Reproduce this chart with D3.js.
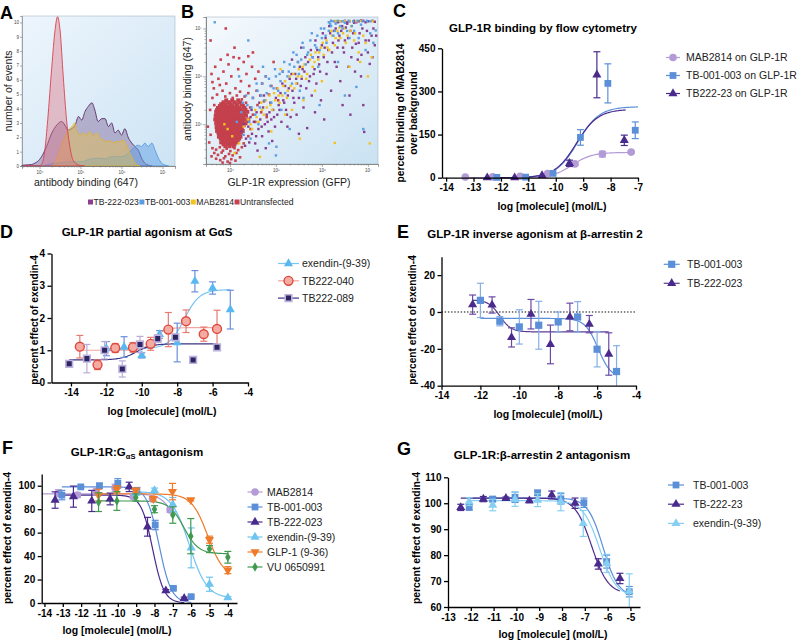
<!DOCTYPE html>
<html>
<head>
<meta charset="utf-8">
<script src="https://cdn.jsdelivr.net/npm/d3@7"></script>
<style>
  body { margin: 0; background: #fff; }
  svg { display: block; }
</style>
</head>
<body>
<div id="chart"></div>
<script>
// ---------- data ----------
// A: histograms, [log10 intensity, number of events]
const histUntransfected = [[3.6,0],[4.0,0],[4.08,0.3],[4.13,1.1],[4.2,3.2],[4.3,6.9],[4.38,9.5],[4.44,10.4],[4.5,9.5],[4.58,6.2],[4.66,3.2],[4.74,1.35],[4.82,0.4],[4.95,0.07],[5.1,0]];
const histTB222023 = [[3.57,0.05],[3.65,0.07],[3.8,0.1],[3.89,0.2],[4.0,0.45],[4.05,0.65],[4.17,1.35],[4.3,2.3],[4.42,2.85],[4.54,3.1],[4.62,2.85],[4.7,2.5],[4.78,2.6],[4.87,2.85],[4.95,3.45],[5.03,3.2],[5.11,3.8],[5.19,4.15],[5.28,4.4],[5.35,3.9],[5.43,3.1],[5.52,3.3],[5.6,3.3],[5.68,2.75],[5.76,3.0],[5.84,2.3],[5.92,2.5],[6.0,2.15],[6.08,2.6],[6.17,1.95],[6.25,1.6],[6.33,1.35],[6.41,1.1],[6.49,0.55],[6.57,0.2],[6.65,0.07],[6.75,0]];
const histMAB2814 = [[4.3,0],[4.38,0.2],[4.5,1.1],[4.62,2.05],[4.74,2.6],[4.82,2.85],[4.86,3.0],[4.9,2.5],[4.99,2.15],[5.07,2.3],[5.15,2.15],[5.23,2.4],[5.31,2.05],[5.39,2.3],[5.48,1.95],[5.56,1.8],[5.64,1.7],[5.72,1.75],[5.8,1.6],[5.88,1.7],[5.96,1.7],[6.04,1.8],[6.12,1.45],[6.2,0.9],[6.29,0.4],[6.37,0.07],[6.45,0]];
const histTB001003 = [[4.05,0],[4.2,0.1],[4.4,0.2],[4.6,0.25],[4.8,0.3],[5.03,0.3],[5.2,0.45],[5.43,0.55],[5.6,0.5],[5.76,0.65],[6.0,0.65],[6.17,0.9],[6.29,1.25],[6.41,1.45],[6.49,1.35],[6.57,1.6],[6.65,1.35],[6.74,1.6],[6.82,1.1],[6.9,0.55],[6.98,0.2],[7.06,0.07],[7.15,0]];

// B: scatter, [log10 GFP, log10 antibody binding]
const untransCoreRows = [
  [5.50,[3.92,4.05,4.18]],
  [5.46,[3.86,3.98,4.10,4.22]],
  [5.42,[3.81,3.90,4.02,4.14,4.26]],
  [5.38,[3.78,3.87,3.96,4.06,4.17,4.29]],
  [5.34,[3.74,3.83,3.93,4.01,4.11,4.21,4.32]],
  [5.30,[3.72,3.80,3.89,3.97,4.05,4.15,4.24,4.34]],
  [5.26,[3.70,3.77,3.85,3.94,4.02,4.09,4.18,4.28,4.38]],
  [5.22,[3.73,3.81,3.90,3.98,4.06,4.13,4.22,4.31]],
  [5.18,[3.69,3.76,3.84,3.92,4.00,4.08,4.16,4.25,4.35]],
  [5.14,[3.71,3.79,3.87,3.95,4.03,4.11,4.19,4.28]],
  [5.10,[3.68,3.75,3.83,3.91,3.99,4.07,4.14,4.22,4.31,4.40]],
  [5.06,[3.72,3.80,3.88,3.96,4.04,4.12,4.20,4.27]],
  [5.02,[3.70,3.77,3.85,3.93,4.01,4.09,4.17,4.25,4.34]],
  [4.98,[3.73,3.81,3.89,3.97,4.05,4.13,4.21,4.30]],
  [4.94,[3.71,3.79,3.86,3.94,4.02,4.10,4.18,4.26]],
  [4.90,[3.74,3.82,3.90,3.98,4.06,4.14,4.23]],
  [4.86,[3.72,3.80,3.87,3.95,4.03,4.11,4.19,4.28]],
  [4.82,[3.75,3.84,3.92,4.00,4.08,4.16,4.24]],
  [4.78,[3.78,3.86,3.94,4.02,4.10,4.19]],
  [4.74,[3.76,3.83,3.91,3.99,4.07,4.15,4.23]],
  [4.70,[3.80,3.88,3.96,4.04,4.12,4.20]],
  [4.66,[3.84,3.92,4.00,4.08,4.17]],
  [4.62,[3.81,3.89,3.97,4.05,4.13]],
  [4.58,[3.86,3.94,4.02,4.10]],
  [4.54,[3.90,3.99,4.08]]
];
const untransSparse = [[3.62,4.50],[3.70,4.47],[3.78,4.52],[3.85,4.45],[3.93,4.49],[4.01,4.44],[4.10,4.50],[4.18,4.46],[4.26,4.52],[3.66,4.40],[3.74,4.36],[3.82,4.41],[3.90,4.33],[3.98,4.38],[4.06,4.35],[4.14,4.40],[4.22,4.31],[3.70,4.28],[3.79,4.25],[3.87,4.29],[3.95,4.22],[4.03,4.27],[4.12,4.24],[3.60,4.33],[3.84,4.20],[4.00,4.19],[3.92,4.56],[4.30,4.60],[3.55,4.62],[3.58,4.78],[3.52,4.95],[4.40,4.75],[4.45,4.90],[4.38,5.05],[4.50,5.20],[4.44,5.35],[3.62,5.55],[3.66,5.40],
  [3.60,6.05],[3.68,6.20],[3.75,5.95],[3.80,6.35],[3.86,6.10],[3.92,5.85],[3.97,6.25],[4.03,6.00],[4.08,6.40],[4.12,5.75],[4.18,6.15],[4.24,5.90],[4.30,6.30],[4.36,6.05],[4.42,5.80],[4.48,6.20],[4.55,5.95],[4.62,6.10],[4.70,5.85],[4.78,6.00],[3.65,5.75],[3.72,5.62],[3.84,5.70],[3.90,5.58],[4.00,5.65],[4.06,5.55],[4.15,5.60],[4.22,5.68],[4.32,5.58],[4.40,5.65],[4.50,5.55],[4.58,5.70],[4.66,5.60],[4.74,5.48],[4.85,5.62],[3.78,5.82],[3.95,6.45],[4.20,6.38],[4.40,6.42],[4.26,5.52],[4.35,5.45],[3.57,5.30],[3.62,5.88],[4.90,5.80],[4.95,6.30],[5.05,5.50],[4.60,5.40],[4.68,5.25],[4.55,5.05],[4.80,5.15],[4.10,6.60],[3.91,7.00],[3.58,6.75],[4.50,6.50]];
const scatterTB222023 = [[4.25,4.85],[4.30,5.00],[4.35,4.70],[4.40,4.95],[4.45,5.15],[4.48,4.80],[4.52,5.05],[4.55,4.60],[4.58,5.25],[4.62,4.90],[4.66,5.10],[4.70,4.75],[4.72,5.35],[4.76,5.00],[4.80,5.20],[4.84,4.85],[4.88,5.45],[4.90,5.10],[4.94,5.30],[4.98,4.95],[5.00,5.55],[5.03,5.20],[4.92,4.65],[4.60,4.45],[4.78,4.50],
  [5.06,5.40],[5.10,5.65],[5.12,5.05],[5.16,5.50],[5.20,5.80],[5.22,5.30],[5.26,5.60],[5.30,5.95],[5.32,5.15],[5.36,5.70],[5.40,5.45],[5.42,6.05],[5.46,5.85],[5.50,5.55],[5.52,6.20],[5.56,5.95],[5.60,5.35],[5.62,6.10],[5.66,5.75],[5.68,4.92],[5.70,6.30],[5.74,6.00],[5.78,5.60],[5.80,6.40],[5.84,6.15],[5.88,5.85],[5.90,6.55],[5.94,6.25],[5.98,5.50],[6.00,6.65],[5.15,6.10],[5.35,6.35],[5.55,6.60],[5.25,4.95],[5.45,5.20],[5.85,5.25],
  [6.04,6.40],[6.08,6.80],[6.10,6.05],[6.14,6.55],[6.18,6.90],[6.20,5.70],[6.24,6.70],[6.28,6.30],[6.30,7.00],[6.34,6.60],[6.38,6.85],[6.40,5.90],[6.44,7.05],[6.48,6.50],[6.50,6.75],[6.55,7.10],[6.58,6.20],[6.62,6.95],[6.66,6.60],[6.70,7.12],[6.74,6.68],[6.78,6.35],[6.82,6.90],[6.85,6.00],[6.88,7.00],[6.92,4.84],[6.95,6.75],[7.00,6.50],[7.04,6.26],[7.08,6.85],[7.12,7.00],[7.15,6.65],[6.60,5.60],[6.90,5.40],[6.45,5.40],
  [6.30,7.15],[6.40,7.15],[6.50,7.16],[6.60,7.15],[6.70,7.16],[6.80,7.15],[6.90,7.16],[7.00,7.15],[7.10,7.16],[6.35,7.13],[6.55,7.13],[6.75,7.13],[6.95,7.13],[7.15,7.14],[6.85,7.17],
  [4.33,4.55],[4.42,4.62],[4.47,5.30],[4.57,4.75],[4.64,5.45],[4.69,4.95],[4.74,5.60],[4.82,5.05],[4.86,5.25],[4.96,5.15],[5.02,5.75],[5.08,5.30],[5.14,5.85],[5.18,5.45],[5.24,5.20],[5.28,5.75],[5.34,6.05],[5.38,5.55],[5.44,5.95],[5.48,6.30],[5.54,5.80],[5.58,6.15],[5.64,6.40],[5.72,5.90],[5.76,6.55],[5.82,6.05],[5.86,6.75],[5.92,6.40],[5.96,6.10],[6.02,6.90],[6.06,6.60],[6.12,6.30],[6.16,7.05],[6.22,6.50],[6.26,6.95],[6.32,6.20],[6.36,6.75],[6.42,6.95],[6.46,6.60],[6.52,7.02],[6.57,6.80],[6.64,6.40],[6.68,6.90],[6.72,6.10],[6.80,6.70],[6.86,6.45],[6.98,6.95],[7.02,6.75],[7.10,6.40],[7.18,6.85],[6.62,5.20],[6.05,5.10],[5.50,4.80]];
const scatterTB001003 = [[4.15,5.05],[4.25,5.25],[4.30,4.78],[4.38,5.40],[4.42,5.05],[4.50,5.55],[4.55,5.20],[4.60,5.70],[4.65,5.35],[4.70,5.85],[4.75,5.50],[4.80,5.65],[4.85,5.95],[4.90,5.45],[4.95,5.75],[5.00,6.00],[5.01,4.53],[5.00,4.35],[5.05,5.70],[5.10,5.90],[5.15,6.10],[5.20,5.65],[5.25,6.00],[5.30,6.25],[5.35,5.85],[5.40,6.20],[5.45,6.45],[5.50,6.05],[5.55,6.35],[5.60,6.60],[5.65,6.25],[5.70,6.50],[5.75,6.75],[5.80,6.40],[5.85,6.65],[5.90,6.85],[5.95,6.55],[6.00,6.80],[6.05,7.00],[6.10,6.70],[6.15,6.95],[6.20,7.05],[6.25,6.85],[6.30,7.10],[6.35,6.90],[6.45,7.00],[6.55,6.95],[6.65,7.05],[6.75,5.78],[6.80,6.80],[6.95,6.55],[7.05,6.90],[7.17,6.96],[3.67,7.13],[4.35,5.60],[4.45,4.70],[4.85,4.60],[5.30,4.90],[5.60,5.55],[6.50,5.60],[6.90,4.90],[6.35,6.30],[5.95,5.40],[4.72,6.20],[4.20,6.00],[4.40,6.75],
  [6.20,7.16],[6.25,7.15],[6.35,7.16],[6.45,7.15],[6.58,7.16],[6.68,7.15],[6.78,7.16],[6.88,7.15],[6.98,7.16],[7.05,7.15],[6.15,7.13],
  [4.28,5.45],[4.47,5.35],[4.58,5.85],[4.68,5.60],[4.78,6.00],[4.88,5.80],[4.98,6.15],[5.08,6.05],[5.18,6.30],[5.28,6.10],[5.38,6.50],[5.48,6.30],[5.58,6.70],[5.68,6.45],[5.78,6.90],[5.88,6.60],[5.98,7.00],[6.08,6.85],[6.18,7.10],[6.28,6.95],[6.40,7.05],[6.60,6.80],[6.70,6.95],[7.12,6.70],[5.12,5.30],[5.52,5.70],[5.92,6.20],[4.62,5.00],[6.85,7.08],[6.50,7.12]];
const scatterMAB2814 = [[4.30,4.95],[4.40,5.10],[4.48,4.90],[4.55,5.30],[4.62,5.05],[4.68,5.45],[4.74,5.20],[4.80,5.35],[4.86,5.60],[4.92,5.30],[4.98,5.50],[5.04,5.75],[5.08,5.45],[5.14,5.60],[5.20,5.90],[5.26,5.70],[5.32,5.80],[5.38,6.05],[5.44,5.85],[5.50,6.15],[5.56,6.00],[5.62,6.25],[5.68,6.05],[5.74,6.35],[5.80,6.20],[5.86,6.50],[5.92,6.35],[5.98,6.60],[6.04,6.45],[6.10,6.75],[6.16,6.55],[6.22,6.85],[6.28,6.65],[6.34,6.95],[6.40,6.80],[6.48,7.00],[6.56,6.85],[6.64,7.05],[6.72,6.90],[6.80,6.50],[6.83,6.30],[6.95,6.70],[7.08,6.40],[5.52,4.70],[6.28,4.61],[7.04,4.60],[4.65,4.32],[4.10,4.40],[3.95,4.90],[4.05,4.75],[3.88,5.00],[4.20,4.60],[5.20,5.20],[5.60,5.50],[6.00,5.90],[4.90,4.85],[5.10,6.15],[6.60,6.20],[6.20,7.16],[6.40,7.15],[6.60,7.16],[6.75,7.15],[7.10,7.15],[7.00,6.00],
  [4.45,5.00],[4.58,5.15],[4.70,5.30],[4.78,5.50],[4.88,5.40],[4.96,5.65],[5.06,5.60],[5.16,5.80],[5.24,5.55],[5.30,6.00],[5.40,5.75],[5.48,6.00],[5.58,6.20],[5.66,5.95],[5.76,6.45],[5.84,6.30],[5.94,6.50],[6.02,6.70],[6.12,6.60],[6.20,6.95],[6.30,6.80],[6.38,7.02],[6.46,6.90],[6.52,6.70],[6.62,6.95],[6.70,6.75],[6.90,6.85],[6.30,7.16],[6.50,7.15],[6.85,7.16],[5.35,5.30],[5.85,5.70]];
const legendAB = ['TB-222-023', 'TB-001-003', 'MAB2814', 'Untransfected'];

// fits are [left plateau, right plateau, logEC50, hill]
// C: binding by flow cytometry
const cMabX = [-13.3,-12.3,-11.3,-10.3,-9.3,-8.3,-7.25];
const cMabY = [2,3,5,14,48,82,89];
const cMabErr = [0,0,0,0,5,10,4];
const cMabFit = [0,88,-9.4,1.2];
const cTb001X = [-12.15,-11.1,-10.1,-9.1,-8.1,-7.1];
const cTb001Y = [1,2,15,140,328,165];
const cTb001Err = [0,0,0,27,68,29];
const cTb001Fit = [0,247,-9.2,1.1];
const cTb222X = [-12.5,-11.5,-10.5,-9.5,-8.5,-7.5];
const cTb222Y = [0,0,8,50,358,130];
const cTb222Err = [0,0,0,11,80,18];
const cTb222Fit = [0,238,-9.25,1.1];

// D: partial agonism at GaS
const dExX = [-12,-11,-10,-9,-8,-7,-6,-5];
const dExY = [1.05,1.10,0.84,1.49,1.24,3.14,2.93,2.26];
const dExErr = [0.22,0.32,0.08,0.12,0.6,0.33,0.19,0.6];
const dExFit = [1.05,2.88,-7.6,1.0];
const d040X = [-13.5,-12.5,-11.5,-10.5,-9.5,-8.5,-7.5,-6.5,-5.75];
const d040Y = [1.11,0.55,1.07,1.09,1.20,1.64,1.90,1.50,1.66];
const d040Err = [0.35,0.15,0.14,0.15,0.2,0.53,0.35,0.22,0.58];
const d040Fit = [1.0,1.7,-9.3,1.5];
const d089X = [-14.1,-13.1,-12.1,-11.1,-10.1,-9.1,-8.1,-7.1,-5.75];
const d089Y = [0.58,0.74,1.00,0.42,1.18,1.36,1.40,0.70,1.09];
const d089Err = [0.1,0.44,0.27,0.25,0.25,0.12,0.1,0,0];
const d089Fit = [0.7,1.2,-10.3,1.0];

// E: inverse agonism at beta-arrestin 2
const eTb001X = [-12,-11,-10,-9,-8,-7,-6,-5];
const eTb001Y = [6.3,-5.0,-8.1,-7.2,-5.4,-2.7,-20.2,-32.3];
const eTb001Err = [9.3,2.5,9.3,13,5.4,8.3,9.6,14];
const eTb001Fit = [-3.5,-36,-5.95,1.3];
const eTb222X = [-12.4,-11.4,-10.4,-9.4,-8.4,-7.4,-6.4,-5.4];
const eTb222Y = [4.0,3.8,-13.8,-1.2,-17.6,-2.7,-6.6,-22.8];
const eTb222Err = [5.2,4.4,5.2,8,10.5,7.5,4.7,11.5];
const eTb222Fit = [6.5,-10.8,-11.0,1.5];

// F: GaS antagonism
const fMabX = [-13.24,-12.2,-11.18,-10.15,-9.15,-8.11,-7.15];
const fMabY = [93.6,92.1,95,98.3,90.7,88.7,79.3];
const fMabErr = [3,2,3,3,2,2,2];
const fMabFit = [93,60,-7.0,1.2];
const fTb001X = [-13.05,-12.02,-11.0,-10.0,-8.96,-7.96,-6.97,-6.0];
const fTb001Y = [92,99,100,102,95.5,66.5,12.5,5.4];
const fTb001Err = [4,1,2,4,3,4,1,1];
const fTb001Fit = [99,0,-7.75,1.3];
const fTb222X = [-13.42,-12.42,-11.42,-10.42,-9.38,-8.38,-7.38,-6.38];
const fTb222Y = [87.8,90.7,87,88.7,99,65,10.5,4];
const fTb222Err = [7,9,9,5,4,8,1,1];
const fTb222Fit = [92,0,-8.1,1.4];
const fExX = [-9.0,-8.0,-7.0,-6.0,-5.0,-4.0];
const fExY = [94,96,84,47,16,4.5];
const fExErr = [2,2,6,17,6,1];
const fExFit = [95,4,-6.1,0.9];
const fGlpX = [-11.05,-10.05,-9.02,-8.06,-7.02,-6.02,-5.0,-4.0];
const fGlpY = [92,97,96,89,95,88,54,28];
const fGlpErr = [5,3,2,2,7,1,3,3];
const fGlpFit = [93,22,-5.1,1.0];
const fVuX = [-11.05,-10.05,-9.02,-8.0,-7.0,-6.02,-5.0,-4.0];
const fVuY = [86,87,90,80,75,57,46,39];
const fVuErr = [8,8,3,3,7,15,3,5];
const fVuFit = [87,42,-6.4,1.1];

// G: beta-arrestin 2 antagonism
const gTb001X = [-12.07,-11.04,-10.06,-9.07,-8.05,-7.04,-6.04,-5.05];
const gTb001Y = [98.4,101.6,102.3,104,101.7,100.2,77.5,65.9];
const gTb001Err = [1,1,2,1,2,1.8,2.5,2];
const gTb001Fit = [102,64,-6.2,1.3];
const gTb222X = [-12.44,-11.45,-10.46,-9.43,-8.45,-7.43,-6.41,-5.46];
const gTb222Y = [98.4,101.6,101.9,101,103.2,100,76.6,71];
const gTb222Err = [1.2,1,0.5,0.8,1.5,2,2,2];
const gTb222Fit = [102,65,-6.7,1.2];
const gExX = [-12.07,-11.04,-10.06,-9.07,-8.05,-7.07,-6.04,-5.05];
const gExY = [100.6,99.3,101.5,101.2,100.6,92.2,76.8,66];
const gExErr = [1.5,2.2,2.7,2.5,3.5,5,3.5,6.8];
const gExFit = [101,64,-6.35,1.2];

// ---------- drawing ----------
const FONT = "'Liberation Sans', Arial, Helvetica, sans-serif";
const svg = d3.select('#chart').append('svg')
  .attr('width', 800).attr('height', 642)
  .attr('font-family', FONT);

const defs = svg.append('defs');
[['bgA', '#edf5fc', '#cde4f4'], ['bgB', '#f6fafd', '#cae2f3']].forEach(([id, c0, c1]) => {
  const lg = defs.append('linearGradient').attr('id', id)
    .attr('x1', '0%').attr('y1', '0%').attr('x2', '100%').attr('y2', '100%');
  lg.append('stop').attr('offset', '0%').attr('stop-color', c0);
  lg.append('stop').attr('offset', '100%').attr('stop-color', c1);
});

// panel letters
[['A',0,19],['B',181,18],['C',393,17],['D',0,238],['E',397,238],['F',2,454],['G',397,455]].forEach(([t,x,y]) => {
  svg.append('text').attr('x', x).attr('y', y).attr('font-size', 18).attr('font-weight', 'bold').text(t);
});

const supDigits = {4:'⁴', 5:'⁵', 6:'⁶', 7:'⁷'};
const minorLog = d3.range(3, 8).flatMap(k => d3.range(2, 10).map(m => k + Math.log10(m)));

function thinAxis(g, axis, tx, ty) {
  const a = g.append('g').attr('transform', `translate(${tx},${ty})`).call(axis);
  a.select('.domain').attr('stroke', '#777').attr('stroke-width', 0.6);
  a.selectAll('.tick line').attr('stroke', '#777').attr('stroke-width', 0.6);
  a.selectAll('.tick text').attr('fill', '#444').attr('font-size', 4.5).attr('font-family', FONT);
  return a;
}

// ---- A: histograms ----
const ax = d3.scaleLinear().domain([3.573, 7.305]).range([22, 175]);
const ay = d3.scaleLinear().domain([0, 10.45]).range([166, 16]);
const gA = svg.append('g');
gA.append('rect').attr('x', 22).attr('y', 16).attr('width', 153).attr('height', 150)
  .attr('fill', 'url(#bgA)').attr('stroke', '#9ab').attr('stroke-width', 0.5);
const areaA = d3.area().x(d => ax(d[0])).y0(ay(0)).y1(d => ay(d[1])).curve(d3.curveMonotoneX);
[
  {data: histTB222023, fill: 'rgba(110,75,135,0.38)', stroke: '#5a2a68'},
  {data: histTB001003, fill: 'rgba(95,160,230,0.5)', stroke: '#5b9be0'},
  {data: histMAB2814, fill: 'rgba(236,190,60,0.42)', stroke: '#e3b22a'},
  {data: histUntransfected, fill: 'rgba(222,110,125,0.4)', stroke: '#d8434f'}
].forEach(s => {
  gA.append('path').datum(s.data).attr('d', areaA)
    .attr('fill', s.fill).attr('stroke', s.stroke).attr('stroke-width', 0.9);
});
thinAxis(gA, d3.axisLeft(ay).tickValues(d3.range(0, 11)).tickSize(2).tickPadding(1).tickFormat(d3.format('d')), 22, 0);
thinAxis(gA, d3.axisBottom(ax).tickValues(minorLog.filter(v => v > 3.58 && v < 7.3)).tickSize(1.5).tickFormat(''), 0, 166);
thinAxis(gA, d3.axisBottom(ax).tickValues([4,5,6,7]).tickSize(3).tickPadding(2).tickFormat(d => '10' + supDigits[d]), 0, 166);
gA.append('text').attr('transform', 'translate(12,91) rotate(-90)').attr('text-anchor', 'middle')
  .attr('font-size', 10.5).attr('fill', '#222').text('number of events');
gA.append('text').attr('x', 86).attr('y', 186).attr('text-anchor', 'middle')
  .attr('font-size', 10.5).attr('fill', '#222').text('antibody binding (647)');

// ---- B: scatter ----
const bx = d3.scaleLinear().domain([3.48, 7.22]).range([206, 378]);
const by = d3.scaleLinear().domain([4.17, 7.24]).range([164, 17]);
const gB = svg.append('g');
gB.append('rect').attr('x', 206).attr('y', 17).attr('width', 172).attr('height', 147)
  .attr('fill', 'url(#bgB)').attr('stroke', '#9ab').attr('stroke-width', 0.5);
const untransCore = untransCoreRows.flatMap(([ly, xs]) => xs.map(lx => [lx, ly]));
[
  {data: untransCore, color: '#c4404c', size: 3.9},
  {data: untransSparse, color: '#c9434f', size: 2.6},
  {data: scatterTB222023, color: '#873d90', size: 2.4},
  {data: scatterMAB2814, color: '#f2c320', size: 2.4},
  {data: scatterTB001003, color: '#5d9de3', size: 2.4}
].forEach(s => {
  gB.append('g').selectAll('rect').data(s.data).join('rect')
    .attr('x', d => bx(d[0]) - s.size / 2).attr('y', d => by(d[1]) - s.size / 2)
    .attr('width', s.size).attr('height', s.size).attr('fill', s.color);
});
thinAxis(gB, d3.axisLeft(by).tickValues(minorLog.filter(v => v > 4.17 && v < 7.24)).tickSize(1.5).tickFormat(''), 206, 0);
thinAxis(gB, d3.axisLeft(by).tickValues([5,6,7]).tickSize(3).tickPadding(1).tickFormat(d => '10' + supDigits[d]), 206, 0);
thinAxis(gB, d3.axisBottom(bx).tickValues(minorLog.filter(v => v > 3.48 && v < 7.22)).tickSize(1.5).tickFormat(''), 0, 164);
thinAxis(gB, d3.axisBottom(bx).tickValues([4,5,6,7]).tickSize(3).tickPadding(2).tickFormat(d => '10' + supDigits[d]), 0, 164);
gB.append('text').attr('transform', 'translate(191,89) rotate(-90)').attr('text-anchor', 'middle')
  .attr('font-size', 10.5).attr('fill', '#222').text('antibody binding (647)');
gB.append('text').attr('x', 289).attr('y', 186).attr('text-anchor', 'middle')
  .attr('font-size', 10.5).attr('fill', '#222').text('GLP-1R expression (GFP)');

// legend under A and B
{
  const colors = ['#8b3d8f', '#5b9be0', '#f2c51c', '#c9434f'];
  let cx = 88;
  legendAB.forEach((name, i) => {
    svg.append('rect').attr('x', cx).attr('y', 199.5).attr('width', 5).attr('height', 5).attr('fill', colors[i]);
    const t = svg.append('text').attr('x', cx + 5.5).attr('y', 205).attr('font-size', 8.6).attr('fill', '#222').text(name);
    cx += 5.5 + t.node().getComputedTextLength() + 0.5;
  });
}

// ---- dose response panels ----
function logistic(p) {
  return x => p[1] + (p[0] - p[1]) / (1 + Math.pow(10, (x - p[2]) * p[3]));
}
const symbols = {
  circle: d3.symbolCircle, square: d3.symbolSquare, triangle: d3.symbolTriangle,
  down: d3.symbolTriangle, diamond: d3.symbolDiamond
};
function marker(g, s, px, py) {
  const size = s.size || (s.shape === 'triangle' || s.shape === 'down' ? 36 : s.shape === 'diamond' ? 26 : 46);
  g.append('path')
    .attr('d', d3.symbol().type(symbols[s.shape]).size(size)())
    .attr('transform', `translate(${px},${py})` + (s.shape === 'down' ? ' rotate(180)' : ''))
    .attr('fill', s.fill || s.color)
    .attr('stroke', s.stroke || 'none')
    .attr('stroke-width', s.strokeWidth || 0);
}

function drawDose(cfg) {
  const g = svg.append('g');
  const x = d3.scaleLinear().domain(cfg.xDomain).range(cfg.xRange);
  const y = d3.scaleLinear().domain(cfg.yDomain).range(cfg.yRange);
  const [y0, y1] = cfg.yDomain;

  if (cfg.zeroLine) {
    g.append('line').attr('x1', cfg.xRange[0]).attr('x2', cfg.xRange[1])
      .attr('y1', y(0)).attr('y2', y(0))
      .attr('stroke', '#000').attr('stroke-width', 1).attr('stroke-dasharray', '1.4,1.8');
  }

  const line = d3.line().x(d => x(d[0])).y(d => y(d[1]));
  cfg.series.forEach(s => {
    const f = logistic(s.fit);
    const xs = d3.range(0, 121).map(i => s.span[0] + (s.span[1] - s.span[0]) * i / 120);
    g.append('path').datum(xs.map(v => [v, Math.max(y0, f(v))]))
      .attr('d', line).attr('fill', 'none')
      .attr('stroke', s.lineColor || s.color).attr('stroke-width', 1.2);
  });
  cfg.series.forEach(s => {
    const eg = g.append('g').attr('stroke', s.errColor || s.color).attr('stroke-width', 1.2).attr('fill', 'none');
    s.x.forEach((xv, i) => {
      const e = s.err[i];
      if (!e) return;
      const px = x(xv);
      const lo = y(Math.max(y0, s.y[i] - e));
      const hi = y(Math.min(y1, s.y[i] + e));
      eg.append('line').attr('x1', px).attr('x2', px).attr('y1', lo).attr('y2', hi);
      [lo, hi].forEach(py => {
        if ((py === y(y0) && s.y[i] - e < y0)) return;
        eg.append('line').attr('x1', px - 3.5).attr('x2', px + 3.5).attr('y1', py).attr('y2', py);
      });
    });
    s.x.forEach((xv, i) => marker(g, s, x(xv), y(s.y[i])));
  });

  const fmt = d => String(d);
  const xa = g.append('g').attr('transform', `translate(0,${cfg.yRange[0]})`)
    .call(d3.axisBottom(x).tickValues(cfg.xTicks).tickSize(4).tickSizeOuter(0).tickPadding(2.5).tickFormat(fmt));
  const ya = g.append('g').attr('transform', `translate(${cfg.xRange[0]},0)`)
    .call(d3.axisLeft(y).tickValues(cfg.yTicks).tickSize(4).tickSizeOuter(0).tickPadding(2.5).tickFormat(fmt));
  [xa, ya].forEach(a => {
    a.select('.domain').attr('stroke', '#000').attr('stroke-width', 1.3);
    a.selectAll('.tick line').attr('stroke', '#000').attr('stroke-width', 1.3);
    a.selectAll('.tick text').attr('fill', '#000').attr('font-size', 10)
      .attr('font-weight', 'bold').attr('font-family', FONT);
  });

  // title
  const tt = g.append('text').attr('x', cfg.title.x).attr('y', cfg.title.y)
    .attr('text-anchor', 'middle').attr('font-size', 11.5).attr('font-weight', 'bold');
  cfg.title.parts.forEach(p => {
    const ts = tt.append('tspan').text(p.t);
    if (p.sub) ts.attr('font-size', 7.5).attr('dy', 3);
    if (p.after) ts.attr('dy', -3);
  });
  // axis labels
  g.append('text').attr('x', cfg.xLabel[0]).attr('y', cfg.xLabel[1]).attr('text-anchor', 'middle')
    .attr('font-size', 10.5).attr('font-weight', 'bold').text('log [molecule] (mol/L)');
  cfg.yLabel.lines.forEach((t, i) => {
    g.append('text')
      .attr('transform', `translate(${cfg.yLabel.x[i]},${cfg.yLabel.cy}) rotate(-90)`)
      .attr('text-anchor', 'middle').attr('font-size', cfg.yLabel.size || 10.5).attr('font-weight', 'bold').text(t);
  });
  // legend
  const L = cfg.legend;
  cfg.series.forEach((s, i) => {
    const ly = L.y0 + i * L.dy;
    g.append('line').attr('x1', L.x - L.half).attr('x2', L.x + L.half).attr('y1', ly).attr('y2', ly)
      .attr('stroke', s.lineColor || s.color).attr('stroke-width', 1.2);
    marker(g, s, L.x, ly);
    g.append('text').attr('x', L.tx).attr('y', ly).attr('dy', '0.36em')
      .attr('font-size', 10.5).attr('fill', '#222').text(s.name);
  });
}

const cMab = '#b39bd6', cTb001 = '#5b8fd8', cTb222 = '#4a2b8d', cEx = '#6fc4f0';

drawDose({
  xDomain: [-14.15, -7], xRange: [442, 638], yDomain: [0, 450], yRange: [177.7, 48.3],
  xTicks: d3.range(-14, -6), yTicks: [0, 150, 300, 450],
  title: {x: 543, y: 32, parts: [{t: 'GLP-1R binding by flow cytometry'}]},
  xLabel: [552, 210],
  yLabel: {lines: ['percent binding of MAB2814', 'over background'], x: [404, 417], cy: 113, size: 10.3},
  legend: {x: 673, half: 7, tx: 686, y0: 57.5, dy: 18},
  series: [
    {name: 'MAB2814 on GLP-1R', x: cMabX, y: cMabY, err: cMabErr, fit: cMabFit, span: [-13.3, -7.25], shape: 'circle', color: cMab},
    {name: 'TB-001-003 on GLP-1R', x: cTb001X, y: cTb001Y, err: cTb001Err, fit: cTb001Fit, span: [-12.15, -7.0], shape: 'square', color: cTb001},
    {name: 'TB222-23 on GLP-1R', x: cTb222X, y: cTb222Y, err: cTb222Err, fit: cTb222Fit, span: [-12.5, -7.45], shape: 'triangle', color: cTb222}
  ]
});

drawDose({
  xDomain: [-15.1, -4], xRange: [51.5, 248], yDomain: [0, 4], yRange: [382.5, 253.5],
  xTicks: [-14, -12, -10, -8, -6, -4], yTicks: [0, 1, 2, 3, 4],
  title: {x: 147, y: 236, parts: [{t: 'GLP-1R partial agonism at GαS'}]},
  xLabel: [162, 415],
  yLabel: {lines: ['percent effect of exendin-4'], x: [37.5], cy: 320, size: 10.2},
  legend: {x: 288.5, half: 10.5, tx: 302, y0: 263.5, dy: 17.3},
  series: [
    {name: 'exendin-(9-39)', x: dExX, y: dExY, err: dExErr, fit: dExFit, span: [-12, -5], shape: 'triangle', color: '#5ab8f0', errColor: '#6b8fdb', lineColor: '#78c6f2'},
    {name: 'TB222-040', x: d040X, y: d040Y, err: d040Err, fit: d040Fit, span: [-13.5, -5.75], shape: 'circle', size: 62, color: '#e0473c', fill: '#f4aca2', stroke: '#e0473c', strokeWidth: 1.4, errColor: '#e77b70', lineColor: '#f0a69e'},
    {name: 'TB222-089', x: d089X, y: d089Y, err: d089Err, fit: d089Fit, span: [-14.1, -5.75], shape: 'square', size: 44, color: '#2c2562', fill: '#2c2562', stroke: '#bdb1de', strokeWidth: 1.6, errColor: '#b9acd9', lineColor: '#3a3584'}
  ]
});

drawDose({
  xDomain: [-14, -4], xRange: [441.5, 636], yDomain: [-40, 30], yRange: [385.7, 256.7],
  xTicks: [-14, -12, -10, -8, -6, -4], yTicks: [-40, -20, 0, 20],
  zeroLine: true,
  title: {x: 535, y: 238, parts: [{t: 'GLP-1R inverse agonism at  β-arrestin 2'}]},
  xLabel: [548, 418],
  yLabel: {lines: ['percent effect of exendin-4'], x: [416], cy: 320, size: 10.2},
  legend: {x: 671.7, half: 8, tx: 687, y0: 264.3, dy: 19},
  series: [
    {name: 'TB-001-003', x: eTb001X, y: eTb001Y, err: eTb001Err, fit: eTb001Fit, span: [-12, -5], shape: 'square', size: 52, color: cTb001, errColor: '#86aee6'},
    {name: 'TB-222-023', x: eTb222X, y: eTb222Y, err: eTb222Err, fit: eTb222Fit, span: [-12.4, -5.4], shape: 'triangle', color: cTb222, errColor: '#6a4aa6', lineColor: '#5a3d93'}
  ]
});

drawDose({
  xDomain: [-14.15, -3.5], xRange: [41.7, 237], yDomain: [0, 110], yRange: [603, 474],
  xTicks: d3.range(-14, -3), yTicks: [0, 20, 40, 60, 80, 100],
  title: {x: 137, y: 456, parts: [{t: 'GLP-1R:G'}, {t: 'αS', sub: true}, {t: ' antagonism', after: true}]},
  xLabel: [117, 634],
  yLabel: {lines: ['percent effect of exendin-4'], x: [11], cy: 538, size: 10.4},
  legend: {x: 255, half: 7.5, tx: 267, y0: 492, dy: 15},
  series: [
    {name: 'MAB2814', x: fMabX, y: fMabY, err: fMabErr, fit: fMabFit, span: [-14.15, -7.15], shape: 'circle', size: 44, color: cMab},
    {name: 'TB-001-003', x: fTb001X, y: fTb001Y, err: fTb001Err, fit: fTb001Fit, span: [-13.05, -6.0], shape: 'square', color: cTb001},
    {name: 'TB-222-023', x: fTb222X, y: fTb222Y, err: fTb222Err, fit: fTb222Fit, span: [-13.42, -6.38], shape: 'triangle', color: cTb222},
    {name: 'exendin-(9-39)', x: fExX, y: fExY, err: fExErr, fit: fExFit, span: [-9.0, -4.0], shape: 'triangle', color: cEx},
    {name: 'GLP-1 (9-36)', x: fGlpX, y: fGlpY, err: fGlpErr, fit: fGlpFit, span: [-11.05, -4.0], shape: 'down', color: '#ef7a2a'},
    {name: 'VU 0650991', x: fVuX, y: fVuY, err: fVuErr, fit: fVuFit, span: [-11.05, -4.0], shape: 'diamond', color: '#3f9a50'}
  ]
});

drawDose({
  xDomain: [-13, -4.58], xRange: [448, 640], yDomain: [60, 110], yRange: [607, 477.3],
  xTicks: d3.range(-13, -4), yTicks: [60, 70, 80, 90, 100, 110],
  title: {x: 542, y: 459, parts: [{t: 'GLP-1R:β-arrestin 2 antagonism'}]},
  xLabel: [553, 638],
  yLabel: {lines: ['percent effect of exendin-4'], x: [420], cy: 538, size: 10.4},
  legend: {x: 676, half: 8, tx: 693, y0: 485, dy: 19.2},
  series: [
    {name: 'TB-001-003', x: gTb001X, y: gTb001Y, err: gTb001Err, fit: gTb001Fit, span: [-12.07, -5.05], shape: 'square', color: cTb001},
    {name: 'TB-222-23', x: gTb222X, y: gTb222Y, err: gTb222Err, fit: gTb222Fit, span: [-12.44, -5.46], shape: 'triangle', color: cTb222},
    {name: 'exendin-(9-39)', x: gExX, y: gExY, err: gExErr, fit: gExFit, span: [-12.07, -5.05], shape: 'triangle', color: '#86cff2'}
  ]
});
</script>
</body>
</html>
